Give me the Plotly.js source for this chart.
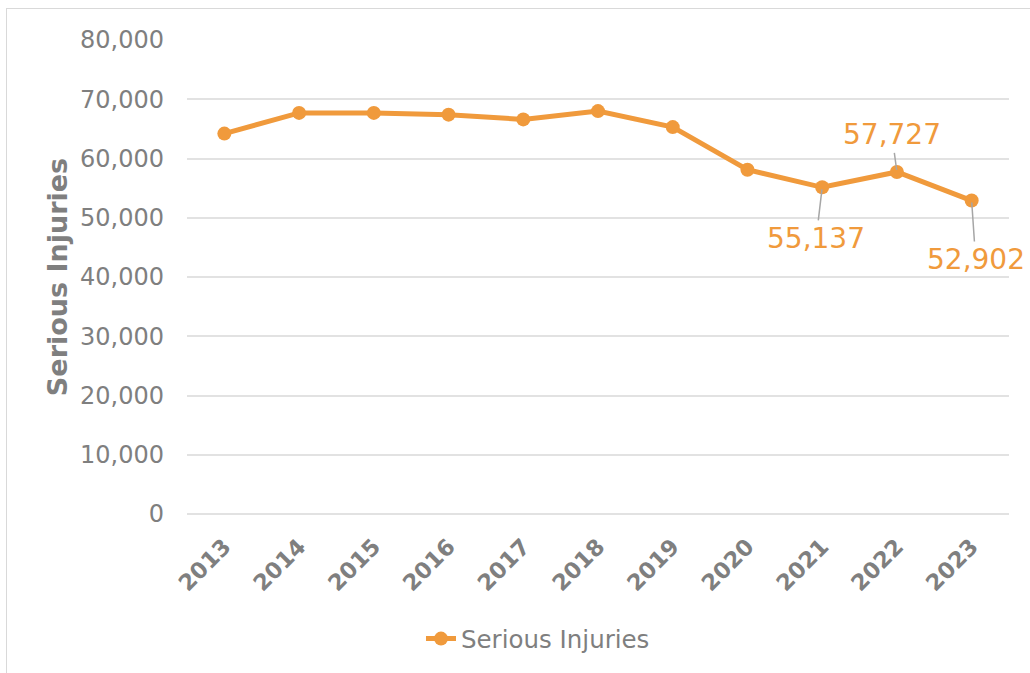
<!DOCTYPE html>
<html>
<head>
<meta charset="utf-8">
<script src="https://cdn.plot.ly/plotly-3.0.1.min.js"></script>
<style>
html,body{margin:0;padding:0;background:#fff;}
#wrap{position:relative;width:1030px;height:673px;}
#chart{position:absolute;left:0;top:0;width:1030px;height:673px;}
#frame{position:absolute;left:6px;top:8px;width:1040px;height:680px;border:1.5px solid #d9d9d9;pointer-events:none;}
</style>
</head>
<body>
<div id="wrap"><div id="chart"></div><div id="frame"></div></div>
<script>
const years = ['2013','2014','2015','2016','2017','2018','2019','2020','2021','2022','2023'];
const seriousInjuries = [64200, 67700, 67700, 67400, 66600, 68000, 65300, 58100, 55137, 57727, 52902];
const seriesName = 'Serious Injuries';
const yTicks = [0,10000,20000,30000,40000,50000,60000,70000,80000];
const yTickText = ['0','10,000','20,000','30,000','40,000','50,000','60,000','70,000','80,000'];
const labelled = [
  {year:'2021', value:55137, text:'55,137', ax:-6, ay:51},
  {year:'2022', value:57727, text:'57,727', ax:-5, ay:-37},
  {year:'2023', value:52902, text:'52,902', ax:4, ay:59}
];

const orange = 'rgb(240,154,60)';
const grey = '#7f7f7f';
const font = 'DejaVu Sans, Verdana, sans-serif';

const trace = {
  x: years, y: seriousInjuries, type:'scatter', mode:'lines+markers', name: seriesName,
  line:{color:orange, width:5}, marker:{color:orange, size:14}
};

const layout = {
  width:1030, height:673,
  margin:{l:187, r:21, t:40, b:155},
  paper_bgcolor:'#fff', plot_bgcolor:'#fff',
  font:{family:font, color:grey},
  showlegend:true,
  legend:{orientation:'h', x:0.427, xanchor:'center', y:-0.263, yanchor:'middle', font:{size:24.5, color:grey}},
  xaxis:{type:'category', range:[-0.5, years.length-0.5], tickangle:-45, showgrid:false, showline:false, ticks:'',
    ticklabelstandoff:14, tickfont:{size:22.5, color:grey, weight:'bold'}},
  yaxis:{range:[0,80000], tickvals:yTicks, ticktext:yTickText, showgrid:true, gridcolor:'#e2e2e2', gridwidth:2,
    zeroline:true, zerolinecolor:'#e2e2e2', zerolinewidth:2, showline:false, ticks:'', ticklabelstandoff:22,
    tickfont:{size:24, color:grey},
    title:{text:'Serious Injuries', font:{size:27, color:grey, weight:'bold'}, standoff:4}},
  annotations: labelled.map(l => ({
    x:years.indexOf(l.year), y:l.value, xref:'x', yref:'y', text:l.text, showarrow:true, arrowhead:0, arrowwidth:1.5,
    arrowcolor:'#a6a6a6', ax:l.ax, ay:l.ay, font:{size:28, color:orange}, standoff:2
  }))
};

Plotly.newPlot('chart', [trace], layout, {displayModeBar:false, staticPlot:true});
</script>
</body>
</html>
